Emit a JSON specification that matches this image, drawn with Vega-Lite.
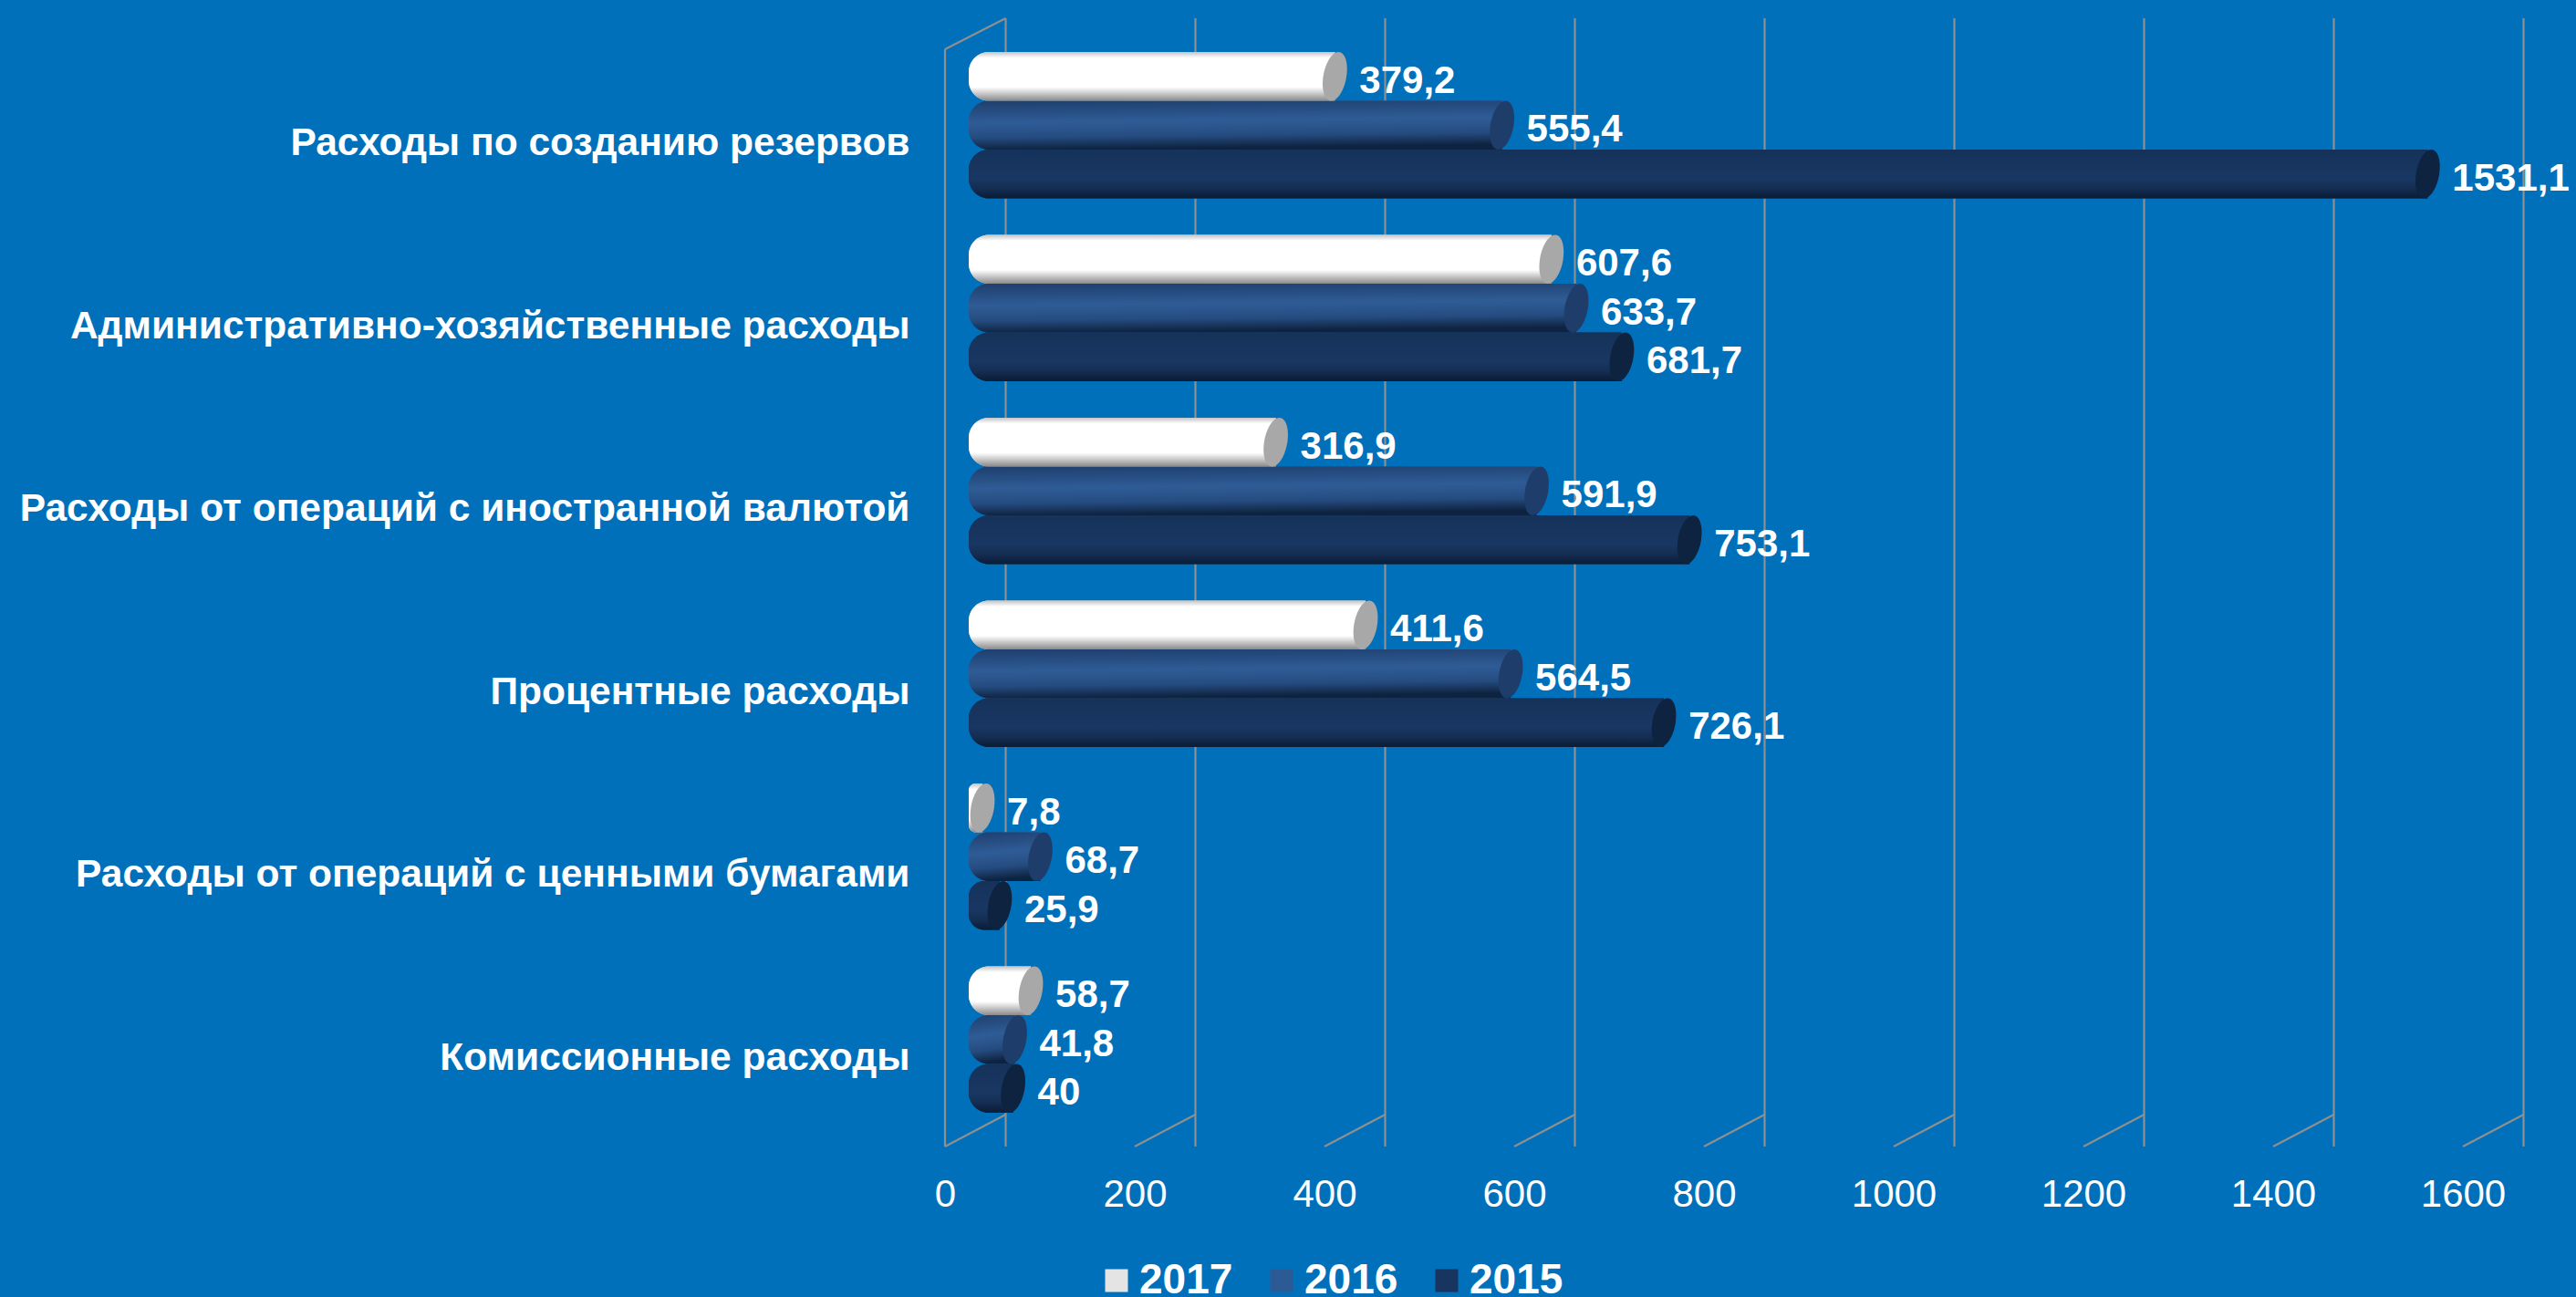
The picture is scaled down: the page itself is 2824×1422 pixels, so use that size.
{
"$schema":"https://vega.github.io/schema/vega-lite/v6.json",
"background":"#0070bb",
"autosize":{"type":"none"},
"padding":{"left":1036,"top":54,"right":124,"bottom":165},
"width":1664,"height":1203,
"config":{"view":{"stroke":null},"font":"Liberation Sans"},
"datasets":{
"bars":[
{"cat":"Расходы по созданию резервов","year":"2015","value":1531.1,"label":"1531,1"},
{"cat":"Расходы по созданию резервов","year":"2016","value":555.4,"label":"555,4"},
{"cat":"Расходы по созданию резервов","year":"2017","value":379.2,"label":"379,2"},
{"cat":"Административно-хозяйственные расходы","year":"2015","value":681.7,"label":"681,7"},
{"cat":"Административно-хозяйственные расходы","year":"2016","value":633.7,"label":"633,7"},
{"cat":"Административно-хозяйственные расходы","year":"2017","value":607.6,"label":"607,6"},
{"cat":"Расходы от операций с иностранной валютой","year":"2015","value":753.1,"label":"753,1"},
{"cat":"Расходы от операций с иностранной валютой","year":"2016","value":591.9,"label":"591,9"},
{"cat":"Расходы от операций с иностранной валютой","year":"2017","value":316.9,"label":"316,9"},
{"cat":"Процентные расходы","year":"2015","value":726.1,"label":"726,1"},
{"cat":"Процентные расходы","year":"2016","value":564.5,"label":"564,5"},
{"cat":"Процентные расходы","year":"2017","value":411.6,"label":"411,6"},
{"cat":"Расходы от операций с ценными бумагами","year":"2015","value":25.9,"label":"25,9"},
{"cat":"Расходы от операций с ценными бумагами","year":"2016","value":68.7,"label":"68,7"},
{"cat":"Расходы от операций с ценными бумагами","year":"2017","value":7.8,"label":"7,8"},
{"cat":"Комиссионные расходы","year":"2015","value":40,"label":"40"},
{"cat":"Комиссионные расходы","year":"2016","value":41.8,"label":"41,8"},
{"cat":"Комиссионные расходы","year":"2017","value":58.7,"label":"58,7"}
],
"walls":[
{"tick":0,"first":"Расходы по созданию резервов","last":"Комиссионные расходы"},
{"tick":200,"first":"Расходы по созданию резервов","last":"Комиссионные расходы"},
{"tick":400,"first":"Расходы по созданию резервов","last":"Комиссионные расходы"},
{"tick":600,"first":"Расходы по созданию резервов","last":"Комиссионные расходы"},
{"tick":800,"first":"Расходы по созданию резервов","last":"Комиссионные расходы"},
{"tick":1000,"first":"Расходы по созданию резервов","last":"Комиссионные расходы"},
{"tick":1200,"first":"Расходы по созданию резервов","last":"Комиссионные расходы"},
{"tick":1400,"first":"Расходы по созданию резервов","last":"Комиссионные расходы"},
{"tick":1600,"first":"Расходы по созданию резервов","last":"Комиссионные расходы"}
]
},
"layer":[
{
"data":{"name":"walls"},
"mark":{"type":"rule","color":"#8f8f8f","strokeWidth":2.2,"xOffset":66.5,"yOffset":-34,"y2Offset":-34},
"encoding":{
"x":{"field":"tick","type":"quantitative","scale":{"domain":[0,1600],"nice":false,"zero":false},
"axis":{"values":[0,200,400,600,800,1000,1200,1400,1600],"title":null,"format":"d","domain":false,"ticks":false,"grid":false,"labelFontSize":42,"labelColor":"#ffffff","labelPadding":32,"labelFlush":false,"labelBound":false,"labelOverlap":false,"labelFont":"Liberation Sans"}}
}
},
{
"data":{"name":"walls"},
"mark":{"type":"rule","color":"#8f8f8f","strokeWidth":2.2,"x2Offset":66.5,"y2Offset":-35},
"encoding":{
"x":{"field":"tick","type":"quantitative"},
"x2":{"field":"tick"},
"y":{"field":"last","type":"nominal","bandPosition":1},
"y2":{"field":"last","bandPosition":1}
}
},
{
"data":{"name":"walls"},
"transform":[{"filter":"datum.tick===0"}],
"mark":{"type":"rule","color":"#8f8f8f","strokeWidth":2.2},
"encoding":{
"x":{"field":"tick","type":"quantitative"}
}
},
{
"data":{"name":"walls"},
"transform":[{"filter":"datum.tick===0"}],
"mark":{"type":"rule","color":"#8f8f8f","strokeWidth":2.2,"x2Offset":66.5,"y2Offset":-34},
"encoding":{
"x":{"field":"tick","type":"quantitative"},
"x2":{"field":"tick"},
"y":{"field":"first","type":"nominal","bandPosition":0},
"y2":{"field":"first","bandPosition":0}
}
},
{
"data":{"name":"bars"},
"mark":{"type":"bar","xOffset":33,"x2Offset":26,"cornerRadiusTopLeft":22,"cornerRadiusBottomLeft":22},
"encoding":{
"x":{"field":"value","type":"quantitative","stack":null},
"x2":{"datum":0},
"color":{"field":"year","type":"nominal","scale":{"domain":["2017","2016","2015"],"range":["#e4e4e4","#2c5a94","#17355f"]},
"legend":{"orient":"none","legendX":165,"legendY":1327,"direction":"horizontal","columns":3,"title":null,"symbolType":"square","symbolSize":625,"symbolStrokeWidth":0,"labelFontSize":46,"labelFontWeight":"bold","labelColor":"#ffffff","labelFont":"Liberation Sans","labelOffset":2,"columnPadding":30,"labelLimit":200,"symbolOpacity":1}},
"y":{"field":"cat","type":"nominal","sort":null,
"scale":{"domain":["Расходы по созданию резервов","Административно-хозяйственные расходы","Расходы от операций с иностранной валютой","Процентные расходы","Расходы от операций с ценными бумагами","Комиссионные расходы"],"paddingInner":0,"paddingOuter":0},
"axis":{"title":null,"domain":false,"ticks":false,"grid":false,"labelFontSize":42.5,"labelFontWeight":"bold","labelColor":"#ffffff","labelPadding":39,"labelLimit":1100,"labelOffset":3,"labelFont":"Liberation Sans"}},
"yOffset":{"field":"year","type":"nominal","scale":{"domain":["2017","2016","2015"],"paddingInner":0,"paddingOuter":0.374,"align":0.075}}
}
},
{
"data":{"name":"bars"},
"transform":[{"filter":"datum.year==='2015'"}],
"mark":{"type":"bar","xOffset":33,"x2Offset":26,"cornerRadiusTopLeft":22,"cornerRadiusBottomLeft":22,
"color":{"gradient":"linear","x1":0,"y1":0,"x2":0,"y2":1,"stops":[{"offset":0,"color":"#15325a"},{"offset":0.6,"color":"#193763"},{"offset":0.8,"color":"#142d52"},{"offset":1,"color":"#0a1c36"}]}},
"encoding":{
"x":{"field":"value","type":"quantitative","stack":null},
"x2":{"datum":0},
"y":{"field":"cat","type":"nominal","sort":null},
"yOffset":{"field":"year","type":"nominal"}
}
},
{
"data":{"name":"bars"},
"transform":[{"filter":"datum.year==='2016'"}],
"mark":{"type":"bar","xOffset":33,"x2Offset":26,"cornerRadiusTopLeft":22,"cornerRadiusBottomLeft":22,
"color":{"gradient":"linear","x1":0,"y1":0,"x2":0.12,"y2":1,"stops":[{"offset":0,"color":"#1e3f6e"},{"offset":0.45,"color":"#2f5c96"},{"offset":0.75,"color":"#254c80"},{"offset":1,"color":"#0e2340"}]}},
"encoding":{
"x":{"field":"value","type":"quantitative","stack":null},
"x2":{"datum":0},
"y":{"field":"cat","type":"nominal","sort":null},
"yOffset":{"field":"year","type":"nominal"}
}
},
{
"data":{"name":"bars"},
"transform":[{"filter":"datum.year==='2017'"}],
"mark":{"type":"bar","xOffset":33,"x2Offset":26,"cornerRadiusTopLeft":22,"cornerRadiusBottomLeft":22,
"color":{"gradient":"linear","x1":0,"y1":0,"x2":0,"y2":1,"stops":[{"offset":0,"color":"#c4c4c4"},{"offset":0.12,"color":"#ffffff"},{"offset":0.72,"color":"#ffffff"},{"offset":1,"color":"#8a8a8a"}]}},
"encoding":{
"x":{"field":"value","type":"quantitative","stack":null},
"x2":{"datum":0},
"y":{"field":"cat","type":"nominal","sort":null},
"yOffset":{"field":"year","type":"nominal"}
}
},
{
"data":{"name":"bars"},
"mark":{"type":"point","filled":true,"opacity":1,"strokeWidth":0,"size":2862,"xOffset":33,"shape":"M0.15,-1C0.413,-1 0.56,-0.552 0.477,0C0.394,0.552 0.113,1 -0.15,1C-0.413,1 -0.56,0.552 -0.477,0C-0.394,-0.552 -0.113,-1 0.15,-1Z"},
"encoding":{
"x":{"field":"value","type":"quantitative"},
"y":{"field":"cat","type":"nominal","sort":null},
"yOffset":{"field":"year","type":"nominal"},
"fill":{"field":"year","type":"nominal","scale":{"domain":["2017","2016","2015"],"range":["#a8a8a8","#1f3d6b","#0e2340"]},"legend":null}
}
},
{
"data":{"name":"bars"},
"mark":{"type":"text","align":"left","baseline":"middle","dx":60,"dy":5,"fontSize":42,"fontWeight":"bold","color":"#ffffff","font":"Liberation Sans"},
"encoding":{
"x":{"field":"value","type":"quantitative"},
"y":{"field":"cat","type":"nominal","sort":null},
"yOffset":{"field":"year","type":"nominal"},
"text":{"field":"label"}
}
}
]
}
